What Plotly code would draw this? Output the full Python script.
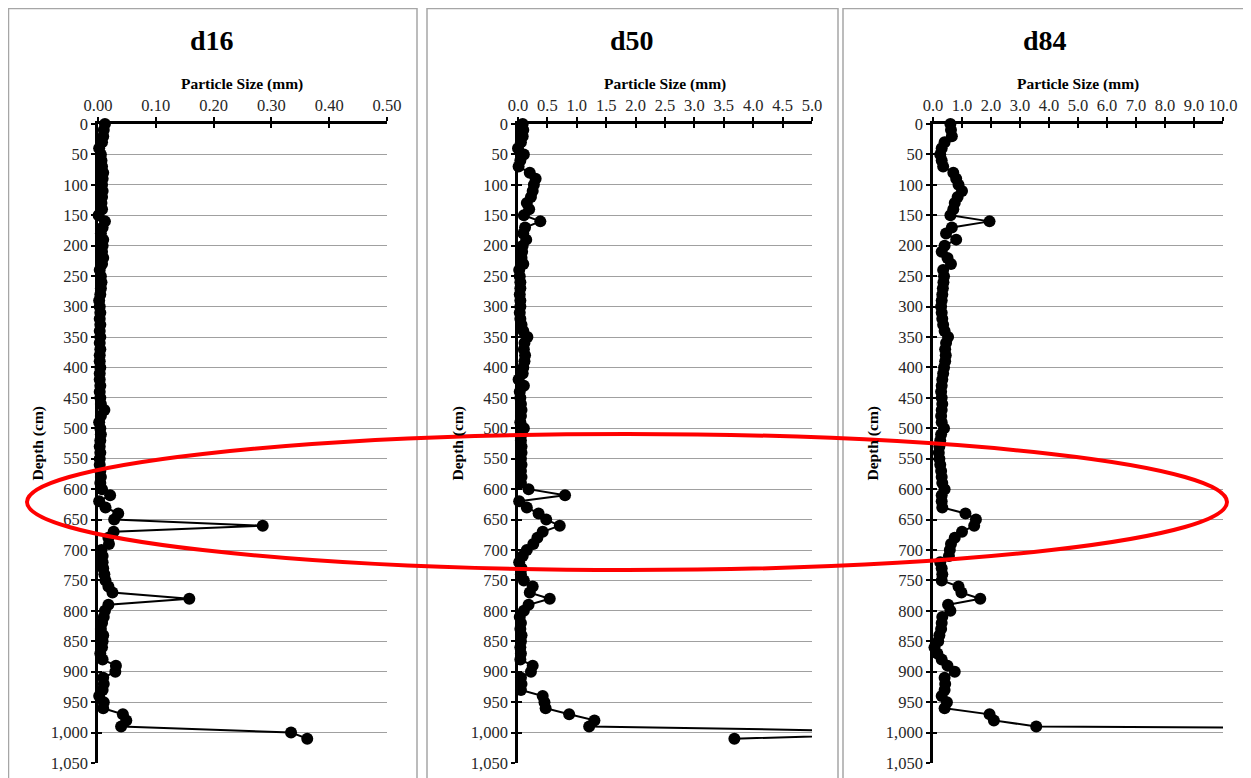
import plotly.graph_objects as go

# ---------------- data ----------------
depth_cm = [0, 10, 20, 30, 40, 50, 60, 70, 80, 90,
            100, 110, 120, 130, 140, 150, 160, 170, 180, 190,
            200, 210, 220, 230, 240, 250, 260, 270, 280, 290,
            300, 310, 320, 330, 340, 350, 360, 370, 380, 390,
            400, 410, 420, 430, 440, 450, 460, 470, 480, 490,
            500, 510, 520, 530, 540, 550, 560, 570, 580, 590,
            600, 610, 620, 630, 640, 650, 660, 670, 680, 690,
            700, 710, 720, 730, 740, 750, 760, 770, 780, 790,
            800, 810, 820, 830, 840, 850, 860, 870, 880, 890,
            900, 910, 920, 930, 940, 950, 960, 970, 980, 990,
            1000, 1010]

d16_mm = [0.012, 0.010, 0.009, 0.007, 0.002, 0.005, 0.006, 0.007, 0.009, 0.008,
          0.007, 0.008, 0.007, 0.006, 0.007, 0.001, 0.012, 0.008, 0.005, 0.009,
          0.008, 0.007, 0.009, 0.007, 0.003, 0.005, 0.006, 0.005, 0.004, 0.002,
          0.003, 0.004, 0.003, 0.004, 0.003, 0.004, 0.003, 0.004, 0.003, 0.003,
          0.004, 0.003, 0.003, 0.004, 0.003, 0.004, 0.005, 0.011, 0.005, 0.002,
          0.004, 0.005, 0.004, 0.003, 0.004, 0.003, 0.003, 0.004, 0.005, 0.004,
          0.007, 0.021, 0.002, 0.013, 0.035, 0.028, 0.285, 0.027, 0.018, 0.019,
          0.006, 0.008, 0.008, 0.009, 0.011, 0.013, 0.018, 0.025, 0.158, 0.018,
          0.012, 0.010, 0.007, 0.005, 0.009, 0.008, 0.007, 0.004, 0.008, 0.031,
          0.030, 0.009, 0.010, 0.008, 0.002, 0.010, 0.009, 0.043, 0.049, 0.040,
          0.334, 0.362]

d50_mm = [0.08, 0.09, 0.08, 0.05, 0.00, 0.10, 0.04, 0.01, 0.20, 0.30,
          0.27, 0.25, 0.22, 0.15, 0.19, 0.10, 0.38, 0.12, 0.09, 0.14,
          0.08, 0.07, 0.06, 0.09, 0.02, 0.03, 0.04, 0.04, 0.03, 0.04,
          0.04, 0.03, 0.04, 0.06, 0.09, 0.16, 0.11, 0.10, 0.12, 0.11,
          0.09, 0.08, 0.01, 0.10, 0.03, 0.04, 0.05, 0.06, 0.05, 0.04,
          0.10, 0.06, 0.05, 0.06, 0.06, 0.05, 0.06, 0.05, 0.06, 0.05,
          0.18, 0.80, 0.02, 0.15, 0.35, 0.48, 0.71, 0.42, 0.33, 0.26,
          0.15, 0.08, 0.02, 0.06, 0.05, 0.10, 0.25, 0.20, 0.54, 0.18,
          0.10, 0.03, 0.05, 0.04, 0.06, 0.05, 0.04, 0.05, 0.04, 0.25,
          0.22, 0.05, 0.06, 0.05, 0.42, 0.45, 0.47, 0.87, 1.30, 1.21,
          7.50, 3.68]

d84_mm = [0.60, 0.62, 0.65, 0.40, 0.30, 0.25, 0.30, 0.35, 0.70, 0.80,
          0.88, 1.00, 0.85, 0.75, 0.70, 0.60, 1.95, 0.65, 0.45, 0.80,
          0.40, 0.30, 0.50, 0.62, 0.35, 0.38, 0.36, 0.34, 0.32, 0.30,
          0.28, 0.30, 0.32, 0.35, 0.40, 0.52, 0.45, 0.42, 0.44, 0.42,
          0.38, 0.35, 0.32, 0.30, 0.28, 0.30, 0.32, 0.30, 0.28, 0.30,
          0.38, 0.28, 0.25, 0.22, 0.20, 0.22, 0.25, 0.28, 0.30, 0.32,
          0.40, 0.30, 0.30, 0.32, 1.12, 1.48, 1.42, 1.00, 0.75, 0.62,
          0.58, 0.55, 0.25, 0.30, 0.32, 0.30, 0.88, 0.98, 1.63, 0.52,
          0.60, 0.32, 0.30, 0.28, 0.22, 0.18, 0.05, 0.15, 0.30, 0.50,
          0.75, 0.40, 0.42, 0.40, 0.30, 0.48, 0.40, 1.95, 2.10, 3.56,
          40.0, 25.0]

panel_titles = ["d16", "d50", "d84"]
x_ranges = [[0, 0.5], [0, 5.0], [0, 10.0]]
x_dticks = [0.1, 0.5, 1.0]
x_formats = [".2f", ".1f", ".1f"]
x_title = "Particle Size (mm)"
y_title = "Depth (cm)"
y_range = [1050, 0]

# ---------------- layout helpers (page pixel -> paper) ----------------
# the page body has an 8px margin, so the figure starts at page pixel (8, 8)
OFF = 8
W, H = 1251 - OFF, 778 - OFF
def px(x):
    return (x - OFF) / W
def py(y):
    return 1 - (y - OFF) / H

plot_x = [(98, 387), (518, 812), (933, 1223)]
plot_top, plot_bot = 124, 763
title_cx = [212, 632, 1045]
depth_lx = [37, 457, 872]
boxes = [(8.5, 417), (427, 838), (843, 1260)]

SERIF = "Liberation Serif"
fig = go.Figure()
layout = dict(
    width=W, height=H, margin=dict(l=0, r=0, t=0, b=0),
    template="none", paper_bgcolor="white", plot_bgcolor="rgba(0,0,0,0)",
    showlegend=False, shapes=[], annotations=[],
)

for i in range(3):
    n = i + 1
    vals = [d16_mm, d50_mm, d84_mm][i]
    xs = "" if n == 1 else str(n)
    ov = str(n + 3)
    rng = x_ranges[i]
    x0, x1 = plot_x[i]

    # line (always clipped to plot area)
    fig.add_trace(go.Scatter(
        x=vals, y=depth_cm, mode="lines",
        line=dict(color="black", width=2),
        xaxis="x" + xs, yaxis="y" + xs, hoverinfo="skip"))
    # markers for points inside the axis range (not clipped at axis edges)
    mx = [v for v in vals if rng[0] <= v <= rng[1]]
    my = [d for v, d in zip(vals, depth_cm) if rng[0] <= v <= rng[1]]
    fig.add_trace(go.Scatter(
        x=mx, y=my, mode="markers", cliponaxis=False,
        marker=dict(color="black", size=12, line=dict(width=0)),
        xaxis="x" + xs, yaxis="y" + xs))
    # dummy trace for overlay axes (cross ticks)
    fig.add_trace(go.Scatter(x=[None], y=[None], mode="markers",
                             xaxis="x" + ov, yaxis="y" + ov,
                             hoverinfo="skip"))

    tickfont = dict(family=SERIF, size=16.5, color="#262626")
    layout["xaxis" + xs] = dict(
        domain=[px(x0), px(x1)], anchor="y" + xs, side="top",
        range=rng, tick0=0, dtick=x_dticks[i], tickformat=x_formats[i],
        ticks="outside", ticklen=4, tickwidth=2, tickcolor="black",
        showline=True, linewidth=2.5, linecolor="black",
        showgrid=False, zeroline=False, tickfont=tickfont)
    layout["yaxis" + xs] = dict(
        domain=[py(plot_bot), py(plot_top)], anchor="x" + xs,
        range=y_range, tick0=0, dtick=50, tickformat=",d",
        ticks="outside", ticklen=4, tickwidth=2, tickcolor="black",
        showline=True, linewidth=2.5, linecolor="black",
        showgrid=True, gridcolor="#A0A0A0", gridwidth=1,
        zeroline=False, tickfont=tickfont, layer="below traces")
    layout["xaxis" + ov] = dict(
        overlaying="x" + xs, anchor="y" + ov, side="top",
        range=rng, tick0=0, dtick=x_dticks[i],
        ticks="inside", ticklen=4, tickwidth=2, tickcolor="black",
        showticklabels=False, showline=False, showgrid=False, zeroline=False)
    layout["yaxis" + ov] = dict(
        overlaying="y" + xs, anchor="x" + ov, side="left",
        range=y_range, tick0=0, dtick=50,
        ticks="inside", ticklen=4, tickwidth=2, tickcolor="black",
        showticklabels=False, showline=False, showgrid=False, zeroline=False)

    # panel frame
    bx0, bx1 = boxes[i]
    layout["shapes"].append(dict(
        type="rect", xref="paper", yref="paper",
        x0=px(bx0), x1=px(bx1), y0=py(790), y1=py(8.5),
        line=dict(color="#A6A6A6", width=1.5), layer="below"))

    # texts
    layout["annotations"] += [
        dict(text="<b>%s</b>" % panel_titles[i], xref="paper", yref="paper",
             x=px(title_cx[i]), y=py(40), showarrow=False,
             xanchor="center", yanchor="middle",
             font=dict(family=SERIF, size=28, color="black")),
        dict(text="<b>%s</b>" % x_title, xref="paper", yref="paper",
             x=px((x0 + x1) / 2), y=py(84), showarrow=False,
             xanchor="center", yanchor="middle",
             font=dict(family=SERIF, size=15.5, color="black")),
        dict(text="<b>%s</b>" % y_title, xref="paper", yref="paper",
             x=px(depth_lx[i]), y=py((plot_top + plot_bot) / 2),
             showarrow=False, textangle=-90,
             xanchor="center", yanchor="middle",
             font=dict(family=SERIF, size=15.5, color="black")),
    ]

# red highlight ellipse
layout["shapes"].append(dict(
    type="circle", xref="paper", yref="paper",
    x0=px(27), x1=px(1227), y0=py(570), y1=py(434),
    line=dict(color="#FF0000", width=4), layer="above"))

fig.update_layout(**layout)
fig.write_html("out.html")
